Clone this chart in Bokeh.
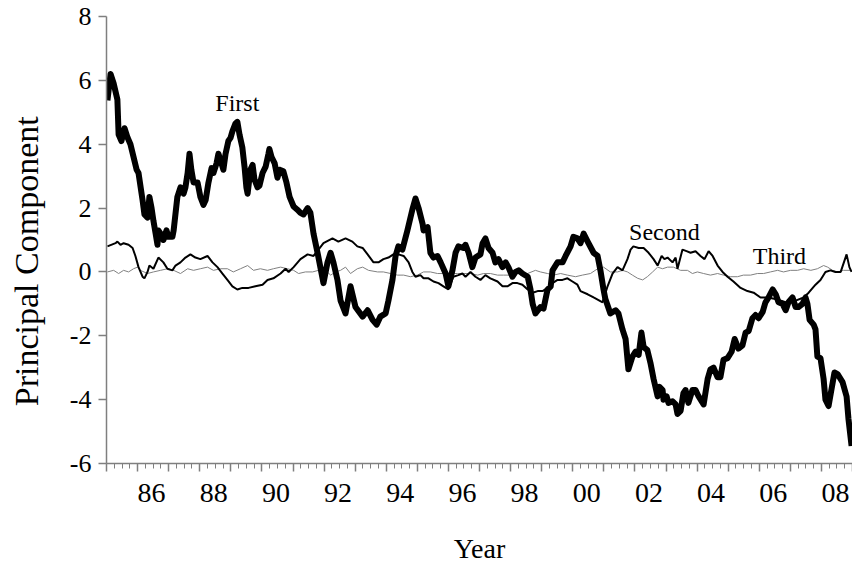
from bokeh.plotting import figure
from bokeh.models import Range1d, LinearAxis, FixedTicker, Label
from bokeh.embed import file_html
from bokeh.resources import INLINE

# ---- data ----
first_year = [1985.03, 1985.13, 1985.23, 1985.35, 1985.39, 1985.48, 1985.58, 1985.68, 1985.77, 1985.87,
              1985.97, 1986.03, 1986.16, 1986.22, 1986.32, 1986.38, 1986.45, 1986.51, 1986.58, 1986.64,
              1986.67, 1986.74, 1986.83, 1986.93, 1986.99, 1987.12, 1987.16, 1987.28, 1987.38, 1987.48,
              1987.54, 1987.61, 1987.67, 1987.73, 1987.80, 1987.93, 1988.02, 1988.12, 1988.19, 1988.28,
              1988.38, 1988.44, 1988.54, 1988.60, 1988.70, 1988.76, 1988.83, 1988.92, 1988.99, 1989.05,
              1989.15, 1989.21, 1989.28, 1989.37, 1989.44, 1989.50, 1989.54, 1989.63, 1989.70, 1989.76,
              1989.86, 1989.92, 1990.02, 1990.12, 1990.21, 1990.24, 1990.31, 1990.41, 1990.50, 1990.57,
              1990.69, 1990.79, 1990.89, 1991.02, 1991.14, 1991.24, 1991.34, 1991.47, 1991.56, 1991.66,
              1991.79, 1991.88, 1991.98, 1992.11, 1992.21, 1992.30, 1992.43, 1992.53, 1992.69, 1992.85,
              1993.01, 1993.24, 1993.40, 1993.56, 1993.69, 1993.81, 1993.98, 1994.07, 1994.20, 1994.30,
              1994.39, 1994.52, 1994.68, 1994.84, 1994.94, 1995.04, 1995.17, 1995.20, 1995.33, 1995.42,
              1995.52, 1995.65, 1995.75, 1995.91, 1996.00, 1996.13, 1996.23, 1996.32, 1996.48, 1996.55,
              1996.65, 1996.77, 1996.87, 1997.03, 1997.10, 1997.19, 1997.29, 1997.42, 1997.51, 1997.61,
              1997.74, 1997.84, 1997.93, 1998.06, 1998.16, 1998.26, 1998.38, 1998.55, 1998.64, 1998.71,
              1998.80, 1998.96, 1999.06, 1999.19, 1999.29, 1999.35, 1999.51, 1999.67, 1999.77, 1999.93,
              2000.02, 2000.15, 2000.25, 2000.35, 2000.48, 2000.67, 2000.80, 2000.89, 2000.99, 2001.05,
              2001.21, 2001.38, 2001.47, 2001.60, 2001.70, 2001.79, 2001.92, 2002.02, 2002.12, 2002.21,
              2002.28, 2002.40, 2002.50, 2002.60, 2002.73, 2002.79, 2002.89, 2002.92, 2003.02, 2003.08,
              2003.21, 2003.31, 2003.37, 2003.47, 2003.56, 2003.63, 2003.72, 2003.85, 2003.95, 2004.05,
              2004.21, 2004.34, 2004.43, 2004.53, 2004.66, 2004.75, 2004.85, 2004.98, 2005.11, 2005.21,
              2005.33, 2005.46, 2005.56, 2005.66, 2005.78, 2005.88, 2005.98, 2006.11, 2006.20, 2006.30,
              2006.43, 2006.53, 2006.62, 2006.75, 2006.85, 2006.94, 2007.07, 2007.17, 2007.26, 2007.39,
              2007.49, 2007.55, 2007.62, 2007.75, 2007.81, 2007.87, 2007.97, 2008.07, 2008.13, 2008.23,
              2008.32, 2008.42, 2008.52, 2008.68, 2008.81, 2008.87, 2008.97]
first_val = [5.37, 6.2, 5.9, 5.4, 4.3, 4.1, 4.5, 4.2, 4.0, 3.6,
             3.2, 3.1, 2.25, 1.8, 1.7, 2.35, 2.0, 1.6, 1.2, 0.85,
             1.3, 1.2, 1.0, 1.3, 1.1, 1.1, 1.3, 2.35, 2.65, 2.45,
             2.65, 3.1, 3.7, 3.2, 2.8, 2.8, 2.35, 2.1, 2.25, 2.8,
             3.25, 3.1, 3.4, 3.7, 3.4, 3.2, 3.7, 4.1, 4.2, 4.4,
             4.65, 4.7, 4.3, 3.9, 3.3, 2.65, 2.45, 3.2, 3.35, 2.9,
             2.65, 2.7, 3.1, 3.3, 3.7, 3.85, 3.6, 3.4, 2.95, 3.2,
             3.15, 2.8, 2.35, 2.05, 1.95, 1.85, 1.8, 2.0, 1.85, 1.2,
             0.6, 0.15, -0.35, 0.3, 0.6, 0.3, -0.25, -0.9, -1.3, -0.45,
             -1.1, -1.4, -1.2, -1.5, -1.65, -1.4, -1.3, -0.9, -0.25, 0.5,
             0.8, 0.7, 1.3, 1.95, 2.3, 2.0, 1.5, 1.3, 1.4, 0.6,
             0.45, 0.5, 0.3, -0.05, -0.45, 0.05, 0.6, 0.8, 0.75, 0.85,
             0.6, 0.15, 0.45, 0.55, 0.9, 1.05, 0.75, 0.6, 0.3, 0.4,
             0.15, 0.3, 0.15, -0.15, 0.0, 0.05, -0.05, -0.15, -0.55, -1.0,
             -1.3, -1.1, -1.15, -0.55, -0.45, 0.05, 0.3, 0.3, 0.5, 0.8,
             1.1, 1.05, 0.9, 1.2, 0.95, 0.6, 0.5, 0.05, -0.55, -0.85,
             -1.3, -1.2, -1.3, -1.8, -2.1, -3.05, -2.65, -2.5, -2.6, -1.9,
             -2.35, -2.45, -2.85, -3.35, -3.9, -3.6, -3.7, -4.0, -3.9, -4.1,
             -4.05, -4.15, -4.45, -4.35, -3.8, -3.7, -4.1, -3.7, -3.7, -3.9,
             -4.15, -3.35, -3.05, -3.0, -3.3, -3.3, -2.75, -2.7, -2.5, -2.1,
             -2.4, -2.3, -1.9, -1.85, -1.45, -1.35, -1.45, -1.25, -0.95, -0.8,
             -0.55, -0.7, -0.95, -1.0, -1.2, -0.95, -0.8, -1.1, -1.1, -1.0,
             -0.8, -1.0, -1.5, -1.65, -1.8, -2.65, -2.7, -3.35, -4.0, -4.2,
             -3.7, -3.15, -3.2, -3.45, -3.9, -4.6, -5.45]

second_year = [1985.03, 1985.29, 1985.35, 1985.45, 1985.55, 1985.71, 1985.84, 1985.93, 1986.03, 1986.16,
               1986.22, 1986.32, 1986.38, 1986.51, 1986.67, 1986.83, 1986.96, 1987.12, 1987.22, 1987.38,
               1987.54, 1987.70, 1987.86, 1988.02, 1988.25, 1988.41, 1988.57, 1988.73, 1988.89, 1989.05,
               1989.21, 1989.37, 1989.57, 1989.79, 1990.02, 1990.18, 1990.37, 1990.60, 1990.76, 1990.86,
               1991.02, 1991.24, 1991.47, 1991.66, 1991.82, 1991.98, 1992.27, 1992.46, 1992.69, 1992.91,
               1993.07, 1993.24, 1993.40, 1993.59, 1993.75, 1993.91, 1994.07, 1994.23, 1994.39, 1994.56,
               1994.72, 1994.84, 1994.94, 1995.10, 1995.20, 1995.36, 1995.52, 1995.68, 1995.84, 1996.00,
               1996.16, 1996.32, 1996.45, 1996.55, 1996.71, 1996.87, 1997.03, 1997.19, 1997.35, 1997.58,
               1997.74, 1997.90, 1998.06, 1998.22, 1998.38, 1998.55, 1998.71, 1998.87, 1999.03, 1999.19,
               1999.35, 1999.51, 1999.67, 1999.83, 1999.99, 2000.15, 2000.25, 2000.48, 2000.67, 2000.96,
               2001.12, 2001.28, 2001.44, 2001.60, 2001.76, 2001.86, 2001.95, 2002.12, 2002.28, 2002.44,
               2002.60, 2002.73, 2002.86, 2002.95, 2003.05, 2003.21, 2003.31, 2003.37, 2003.53, 2003.66,
               2003.79, 2003.95, 2004.11, 2004.24, 2004.37, 2004.50, 2004.66, 2004.82, 2004.98, 2005.17,
               2005.40, 2005.62, 2005.82, 2006.04, 2006.27, 2006.52, 2006.85, 2007.17, 2007.43, 2007.59,
               2007.81, 2007.97, 2008.13, 2008.29, 2008.45, 2008.62, 2008.81, 2008.90, 2008.97]
second_val = [0.8, 0.9, 0.95, 0.85, 0.9, 0.85, 0.75, 0.5, 0.15, -0.15,
              -0.2, 0.0, 0.2, 0.1, 0.45, 0.3, 0.1, 0.05, 0.2, 0.3,
              0.45, 0.55, 0.45, 0.4, 0.5, 0.3, 0.15, -0.05, -0.25, -0.45,
              -0.55, -0.5, -0.5, -0.45, -0.4, -0.25, -0.2, -0.05, 0.1, 0.0,
              0.15, 0.4, 0.55, 0.5, 0.7, 0.9, 1.05, 0.95, 1.05, 0.95,
              0.8, 0.75, 0.55, 0.3, 0.3, 0.4, 0.45, 0.55, 0.55, 0.5,
              0.3, 0.0, -0.15, -0.1, -0.2, -0.2, -0.3, -0.35, -0.45, -0.55,
              -0.15, -0.1, -0.05, -0.15, 0.0, -0.15, -0.25, -0.1, -0.2, -0.3,
              -0.45, -0.45, -0.35, -0.35, -0.4, -0.55, -0.65, -0.6, -0.6, -0.5,
              -0.35, -0.25, -0.25, -0.2, -0.3, -0.4, -0.6, -0.7, -0.8, -0.95,
              -0.45, -0.05, 0.15, 0.05, 0.4, 0.7, 0.8, 0.75, 0.75, 0.6,
              0.4, 0.2, 0.5, 0.4, 0.45, 0.3, 0.45, 0.1, 0.7, 0.65,
              0.6, 0.65, 0.5, 0.4, 0.65, 0.5, 0.2, 0.0, -0.15, -0.3,
              -0.5, -0.6, -0.65, -0.8, -0.8, -0.85, -0.95, -0.9, -0.8, -0.65,
              -0.4, -0.25, 0.0, 0.05, 0.0, 0.0, 0.55, 0.15, 0.0]

third_year = [1985.03, 1985.23, 1985.39, 1985.55, 1985.71, 1985.87, 1986.00, 1986.09, 1986.32, 1986.51,
              1986.74, 1986.96, 1987.16, 1987.38, 1987.61, 1987.80, 1988.02, 1988.25, 1988.44, 1988.67,
              1988.89, 1989.08, 1989.31, 1989.54, 1989.73, 1989.95, 1990.18, 1990.37, 1990.60, 1990.82,
              1991.02, 1991.18, 1991.40, 1991.63, 1991.82, 1992.05, 1992.21, 1992.37, 1992.53, 1992.69,
              1992.85, 1993.07, 1993.24, 1993.43, 1993.72, 1993.91, 1994.14, 1994.36, 1994.56, 1994.78,
              1995.00, 1995.20, 1995.42, 1995.65, 1995.84, 1996.07, 1996.29, 1996.48, 1996.71, 1996.94,
              1997.13, 1997.35, 1997.58, 1997.77, 1997.99, 1998.22, 1998.42, 1998.80, 1998.96, 1999.19,
              1999.38, 1999.61, 1999.83, 2000.09, 2000.31, 2000.57, 2000.80, 2000.99, 2001.21, 2001.44,
              2001.60, 2001.76, 2001.92, 2002.09, 2002.25, 2002.40, 2002.57, 2002.73, 2002.89, 2003.05,
              2003.24, 2003.47, 2003.69, 2003.85, 2004.01, 2004.21, 2004.43, 2004.66, 2004.85, 2005.08,
              2005.30, 2005.49, 2005.72, 2005.94, 2006.14, 2006.36, 2006.59, 2006.78, 2007.01, 2007.23,
              2007.43, 2007.66, 2007.87, 2008.07, 2008.20, 2008.36, 2008.52, 2008.71, 2008.94]
third_val = [0.0, 0.05, -0.05, 0.05, 0.0, 0.1, 0.15, 0.05, -0.05, 0.0,
             0.05, 0.1, 0.05, -0.05, 0.1, 0.05, 0.1, 0.15, 0.05, 0.1,
             0.1, 0.0, 0.1, 0.2, 0.05, 0.1, 0.05, 0.1, 0.15, 0.1,
             0.05, -0.05, 0.0, 0.0, 0.05, 0.05, -0.1, 0.0, 0.05, 0.15,
             -0.05, 0.1, 0.15, 0.05, 0.0, 0.0, -0.05, -0.1, -0.1, -0.15,
             -0.1, 0.0, 0.0, -0.05, -0.05, -0.05, -0.05, -0.05, -0.05, -0.1,
             -0.05, -0.05, -0.1, -0.1, -0.1, -0.05, -0.1, 0.05, 0.0, -0.05,
             -0.1, -0.05, -0.1, -0.15, -0.1, -0.05, 0.1, 0.15, 0.0, 0.0,
             0.05, 0.0, -0.1, -0.2, -0.25, -0.15, 0.0, 0.15, 0.1, 0.15,
             0.15, 0.05, 0.05, -0.05, 0.0, -0.05, -0.1, -0.05, -0.1, -0.15,
             -0.15, -0.1, -0.1, -0.05, -0.05, 0.0, 0.05, 0.0, 0.05, 0.05,
             0.1, 0.05, 0.1, 0.2, 0.15, 0.05, 0.0, 0.05, 0.05]

year_ticks = list(range(1985, 2010))
quarter_ticks = [y + q / 4 for y in range(1985, 2009) for q in (1, 2, 3)]
labelled_years = list(range(1986, 2009, 2))
y_ticks = [-6, -4, -2, 0, 2, 4, 6, 8]

series_names = ["First", "Second", "Third"]
name_x = [1989.21, 2002.95, 2006.65]
name_y = [5.28, 1.25, 0.5]

FONT = "Liberation Serif"
AXIS_COLOR = "#7f7f7f"
NBSP = "\u00a0"

# label text for each year tick; leading no-break spaces push the visible
# digits to the middle of the year that follows the tick
year_labels = {y: ((NBSP * 4) + f"{y % 100:02d}" if y in labelled_years else "") for y in year_ticks}
y_labels = {v: str(v) for v in y_ticks}

p = figure(width=852, height=566, output_backend="svg", toolbar_location=None,
           x_range=Range1d(1985, 2009), y_range=Range1d(-6, 8),
           x_axis_type=None, min_border_left=106, min_border_right=0,
           min_border_top=16, min_border_bottom=102)
p.outline_line_color = None
p.grid.visible = False
p.background_fill_color = "white"
p.border_fill_color = "white"

# y axis
ya = p.yaxis[0]
ya.ticker = FixedTicker(ticks=y_ticks)
ya.major_label_overrides = y_labels
ya.axis_line_color = AXIS_COLOR
ya.axis_line_width = 1.5
ya.major_tick_line_color = AXIS_COLOR
ya.major_tick_line_width = 1.5
ya.major_tick_out = 8
ya.major_tick_in = 0
ya.minor_tick_line_color = None
ya.major_label_text_font = FONT
ya.major_label_text_font_size = "26px"
ya.major_label_text_color = "black"
ya.major_label_standoff = 7
ya.axis_label = "Principal Component" + NBSP * 5
ya.axis_label_text_font = FONT
ya.axis_label_text_font_size = "34px"
ya.axis_label_text_font_style = "normal"
ya.axis_label_text_color = "black"
ya.axis_label_standoff = 22

# x axis
xa = LinearAxis(ticker=FixedTicker(ticks=year_ticks, minor_ticks=quarter_ticks),
                major_label_overrides=year_labels)
xa.axis_line_color = AXIS_COLOR
xa.axis_line_width = 1.5
xa.major_tick_line_color = AXIS_COLOR
xa.major_tick_line_width = 1.5
xa.major_tick_out = 8
xa.major_tick_in = 0
xa.minor_tick_line_color = AXIS_COLOR
xa.minor_tick_line_width = 1
xa.minor_tick_out = 5
xa.minor_tick_in = 0
xa.major_label_text_font = FONT
xa.major_label_text_font_size = "28px"
xa.major_label_text_color = "black"
xa.major_label_standoff = 5
xa.axis_label = "Year"
xa.axis_label_text_font = FONT
xa.axis_label_text_font_size = "28px"
xa.axis_label_text_font_style = "normal"
xa.axis_label_text_color = "black"
xa.axis_label_standoff = 22
p.add_layout(xa, "below")

# series
p.line(third_year, third_val, line_color="#808080", line_width=1)
p.line(second_year, second_val, line_color="black", line_width=2)
p.line(first_year, first_val, line_color="black", line_width=6, line_join="round")

for n, x, y in zip(series_names, name_x, name_y):
    p.add_layout(Label(x=x, y=y, text=n, text_align="center", text_baseline="middle",
                       text_font=FONT, text_font_size="24px", text_color="black"))

open("out.html", "w").write(file_html(p, INLINE))
